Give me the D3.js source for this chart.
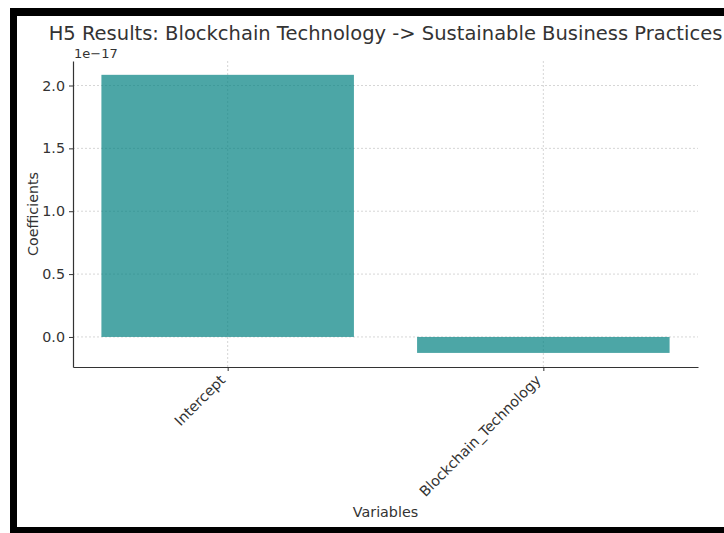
<!DOCTYPE html>
<html>
<head>
<meta charset="utf-8">
<script src="https://cdn.jsdelivr.net/npm/d3@7"></script>
<style>
  body { margin: 0; background: #fff; }
  text { font-family: "DejaVu Sans", sans-serif; fill: #333; }
</style>
</head>
<body>
<div id="chart"></div>
<script>
// Data (coefficients are in units of 1e-17)
const variables = ["Intercept", "Blockchain_Technology"];
const coefficients = [2.085, -0.127];
const yTicks = [0.0, 0.5, 1.0, 1.5, 2.0];

const width = 724;
const height = 533;
const margin = { top: 61, right: 25, bottom: 166, left: 73 };
const fontSize = "14.3px";

const svg = d3.select("#chart")
    .append("svg")
    .attr("width", width)
    .attr("height", height);

svg.append("rect")
    .attr("width", width)
    .attr("height", height)
    .attr("fill", "#fff");

// Black frame from the screenshot
svg.append("rect").attr("x", 10).attr("y", 8).attr("width", 714).attr("height", 8).attr("fill", "#000");
svg.append("rect").attr("x", 10).attr("y", 8).attr("width", 7).attr("height", 525).attr("fill", "#000");
svg.append("rect").attr("x", 10).attr("y", 527).attr("width", 714).attr("height", 6).attr("fill", "#000");

// Scales: matplotlib style, bar width 0.8 with 5% margins
const xScale = d3.scaleLinear()
    .domain([-0.49, 1.49])
    .range([margin.left, width - margin.right - 1]);

const yScale = d3.scaleLinear()
    .domain([-0.239, 2.195])
    .range([height - margin.bottom, margin.top]);

// Grid lines
svg.append("g")
    .selectAll("line")
    .data(yTicks)
    .enter()
    .append("line")
    .attr("x1", margin.left)
    .attr("x2", xScale(1.49))
    .attr("y1", d => yScale(d))
    .attr("y2", d => yScale(d))
    .attr("stroke", "#ccc")
    .attr("stroke-width", 0.8)
    .attr("stroke-dasharray", "2,2");

svg.append("g")
    .selectAll("line")
    .data(variables)
    .enter()
    .append("line")
    .attr("x1", (d, i) => xScale(i))
    .attr("x2", (d, i) => xScale(i))
    .attr("y1", margin.top)
    .attr("y2", yScale(-0.239))
    .attr("stroke", "#ccc")
    .attr("stroke-width", 0.8)
    .attr("stroke-dasharray", "2,2");

// Bars
svg.selectAll(".bar")
    .data(coefficients)
    .enter()
    .append("rect")
    .attr("class", "bar")
    .attr("x", (d, i) => xScale(i - 0.4))
    .attr("width", xScale(0.4) - xScale(-0.4))
    .attr("y", d => yScale(Math.max(0, d)))
    .attr("height", d => Math.abs(yScale(d) - yScale(0)))
    .attr("fill", "teal")
    .attr("fill-opacity", 0.7);

// Y axis
const yAxis = d3.axisLeft(yScale)
    .tickValues(yTicks)
    .tickFormat(d3.format(".1f"))
    .tickSize(4)
    .tickSizeOuter(0)
    .tickPadding(4);
const gy = svg.append("g")
    .attr("transform", `translate(${margin.left},0)`)
    .call(yAxis);
gy.select(".domain").attr("stroke", "#333").attr("stroke-width", 1.2);
gy.selectAll(".tick line").attr("stroke", "#333");
gy.selectAll(".tick text").style("font-size", fontSize).attr("fill", "#333");

// X axis
const xAxis = d3.axisBottom(xScale)
    .tickValues([0, 1])
    .tickFormat(i => variables[i])
    .tickSize(4)
    .tickSizeOuter(0);
const gx = svg.append("g")
    .attr("transform", `translate(0,${yScale(-0.239)})`)
    .call(xAxis);
gx.select(".domain").attr("stroke", "#333").attr("stroke-width", 1.2);
gx.selectAll(".tick line").attr("stroke", "#333");
gx.selectAll(".tick text")
    .style("font-size", fontSize)
    .attr("fill", "#333")
    .attr("text-anchor", "end")
    .attr("dy", null)
    .attr("y", 0)
    .attr("transform", "translate(-2,14) rotate(-45)");

// Exponent label
svg.append("text")
    .attr("x", margin.left + 1)
    .attr("y", 58)
    .style("font-size", "13px")
    .text("1e\u221217");

// Axis labels
svg.append("text")
    .attr("x", -(margin.top + yScale(-0.239)) / 2)
    .attr("y", 38)
    .attr("transform", "rotate(-90)")
    .style("text-anchor", "middle")
    .style("font-size", fontSize)
    .text("Coefficients");

svg.append("text")
    .attr("x", (margin.left + xScale(1.49)) / 2)
    .attr("y", 517)
    .style("text-anchor", "middle")
    .style("font-size", fontSize)
    .text("Variables");

// Title
svg.append("text")
    .attr("x", (margin.left + xScale(1.49)) / 2)
    .attr("y", 40)
    .style("text-anchor", "middle")
    .style("font-size", "19.5px")
    .text("H5 Results: Blockchain Technology -> Sustainable Business Practices");
</script>
</body>
</html>
